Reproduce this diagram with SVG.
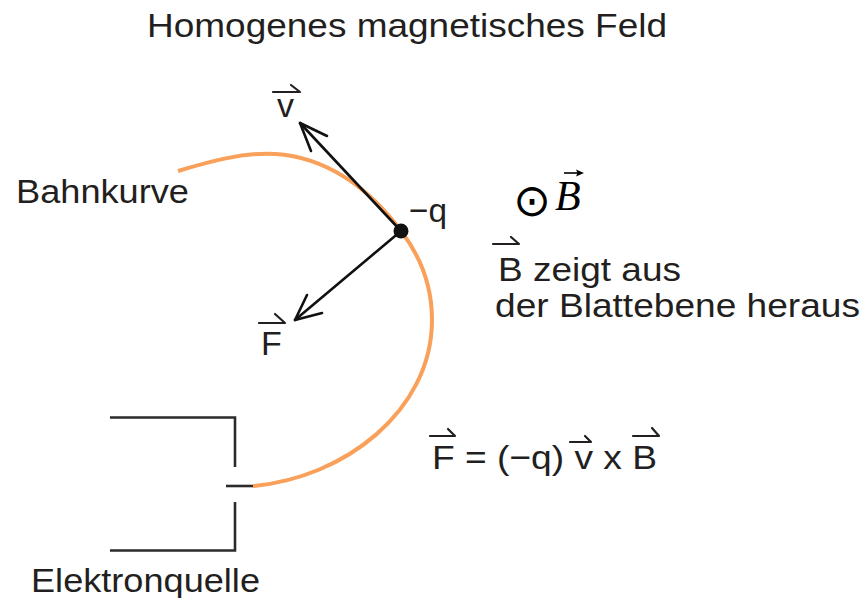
<svg xmlns="http://www.w3.org/2000/svg" width="865" height="598" viewBox="0 0 865 598">
<style>
.t{font-family:"Liberation Sans",Arial,sans-serif;font-size:34px;fill:#231f20}
.hook{fill:none;stroke:#231f20;stroke-width:2.2;stroke-linecap:round;stroke-linejoin:round}
.ln{fill:none;stroke:#2b2b2b;stroke-width:2.6}
.arr{fill:none;stroke:#111;stroke-width:2.6;stroke-linecap:round;stroke-linejoin:round}
</style>
<rect width="865" height="598" fill="#fff"/>
<g id="title"><text class="t" x="147" y="37" textLength="520" lengthAdjust="spacingAndGlyphs">Homogenes magnetisches Feld</text></g>
<g id="source">
<path class="ln" d="M110,417.5 H235 V467"/>
<path class="ln" d="M235,502 V550.5 H110"/>
<path class="ln" d="M226,486 H254"/>
</g>
<g id="path-curve">
<path d="M178,171 C208,162 243,152 275,154 C327,157 370,189 401,231 C421,257 432,287 432,320 C432,411 344,478 253,486" fill="none" stroke="#f9a05a" stroke-width="4"/>
</g>
<g id="connectors">
<g id="v-arrow"><path class="arr" d="M401,231 L300,123"/><path class="arr" d="M327,136 L300,123 L311,151"/></g>
<g id="F-arrow"><path class="arr" d="M401,231 L295,320"/><path class="arr" d="M322,313 L295,320 L307,295"/></g>
</g>
<g id="charge"><circle cx="401" cy="231" r="7.5" fill="#111"/><text class="t" x="409" y="222" font-size="30" textLength="38" lengthAdjust="spacingAndGlyphs">−q</text></g>
<g id="label-v"><text class="t" x="277" y="117">v</text><path class="hook" d="M273,92 H300 L291,85"/></g>
<g id="label-F"><text class="t" x="261" y="355">F</text><path class="hook" d="M259,323 H285 L275,314"/></g>
<g id="label-bahn"><text class="t" x="16" y="203" textLength="173" lengthAdjust="spacingAndGlyphs">Bahnkurve</text></g>
<g id="label-B-field">
<text x="532" y="216" text-anchor="middle" style="font-family:'DejaVu Sans','Liberation Serif',serif;font-size:45px;fill:#000">⊙</text>
<text x="555" y="210" style="font-family:'Liberation Serif','Times New Roman',serif;font-style:italic;font-size:42px;fill:#000">B</text>
<path d="M564,173 H580" stroke="#000" stroke-width="1.6"/><path d="M584,173 L576,169.5 L577.5,173 L576,176.5 Z" fill="#000"/>
</g>
<g id="label-B-text">
<text class="t" x="498" y="281" textLength="183" lengthAdjust="spacingAndGlyphs">B zeigt aus</text>
<path class="hook" d="M493,244 H519 L511,237"/>
<text class="t" x="495" y="317" textLength="365" lengthAdjust="spacingAndGlyphs">der Blattebene heraus</text>
</g>
<g id="formula">
<text class="t" x="432" y="469" font-size="35" textLength="225" lengthAdjust="spacingAndGlyphs">F = (−q) v x B</text>
<path class="hook" d="M430,436 H455 L448,429"/>
<path class="hook" d="M570,442 H591 L585,436"/>
<path class="hook" d="M633,436 H659 L652,428"/>
</g>
<g id="label-source"><text class="t" x="31" y="592" font-size="33" textLength="229" lengthAdjust="spacingAndGlyphs">Elektronquelle</text></g>
</svg>
